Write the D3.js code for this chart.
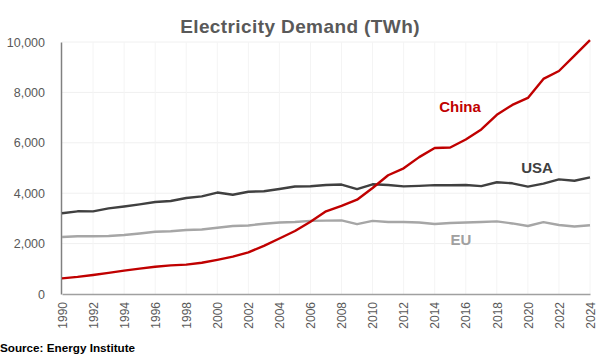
<!DOCTYPE html>
<html><head><meta charset="utf-8">
<script src="https://cdn.jsdelivr.net/npm/d3@7"></script>
<style>body{margin:0;background:#fff;font-family:"Liberation Sans",Arial,sans-serif;}</style>
</head><body><svg id="c" width="600" height="358"></svg>
<script>
const years = d3.range(1990, 2025);
const china = [621,678,754,836,928,1008,1081,1135,1167,1239,1356,1481,1654,1911,2204,2500,2866,3282,3496,3742,4207,4713,4988,5432,5795,5815,6133,6529,7112,7503,7779,8534,8849,9456,10073];
const usa = [3203,3281,3279,3398,3474,3558,3652,3691,3808,3874,4026,3937,4058,4076,4168,4268,4275,4324,4343,4165,4354,4327,4270,4291,4319,4317,4328,4282,4434,4392,4260,4380,4547,4494,4630];
const eu = [2260,2290,2290,2300,2340,2400,2470,2490,2540,2560,2630,2700,2720,2790,2840,2860,2900,2910,2920,2770,2900,2860,2860,2840,2780,2820,2840,2860,2880,2800,2700,2850,2740,2680,2730];
const yTicks = [0,2000,4000,6000,8000,10000];
const xTicks = d3.range(1990, 2025, 2);
const series = [
  {name:"EU", values:eu, color:"#a6a6a6", lx:461, ly:245, lc:"#a0a0a0"},
  {name:"USA", values:usa, color:"#404040", lx:537, ly:173, lc:"#404040"},
  {name:"China", values:china, color:"#c00000", lx:460, ly:112, lc:"#c00000"}
];

const svg = d3.select("#c");
const x = d3.scaleLinear().domain([1990, 2024]).range([62, 590]);
const y = d3.scaleLinear().domain([0, 10000]).range([294, 42]);

svg.append("text").attr("x", 300).attr("y", 33).attr("text-anchor","middle")
  .attr("font-size", 19).attr("font-weight","bold").attr("fill","#595959")
  .attr("letter-spacing", 0.4)
  .text("Electricity Demand (TWh)");

// gridlines
svg.append("g").selectAll("line").data(yTicks.filter(d=>d>0)).join("line")
  .attr("x1", 62).attr("x2", 590).attr("y1", d=>y(d)).attr("y2", d=>y(d))
  .attr("stroke","#f0f0f0").attr("stroke-width",1);
svg.append("g").selectAll("line").data(xTicks.slice(1)).join("line")
  .attr("x1", d=>x(d)).attr("x2", d=>x(d)).attr("y1", 42).attr("y2", 294)
  .attr("stroke","#f4f4f4").attr("stroke-width",1);

// y axis
const ya = svg.append("g").attr("transform","translate(61,0)")
  .call(d3.axisLeft(y).tickValues(yTicks).tickSize(0).tickPadding(16).tickFormat(d3.format(",")));
ya.select(".domain").attr("stroke","#808080").attr("stroke-width",1.5);
ya.selectAll("text").attr("font-size",12.5).attr("fill","#595959").attr("font-family","Liberation Sans, Arial, sans-serif");

// x axis
const xa = svg.append("g").attr("transform","translate(0,294)")
  .call(d3.axisBottom(x).tickValues(xTicks).tickSize(0).tickFormat(d3.format("d")));
xa.select(".domain").attr("stroke","#a0a0a0").attr("stroke-width",1.5);
xa.selectAll("text").attr("font-size",12).attr("fill","#595959")
  .attr("font-family","Liberation Sans, Arial, sans-serif")
  .attr("transform","rotate(-90)").attr("text-anchor","end")
  .attr("x",-8).attr("y",0).attr("dy","0.35em");

const line = d3.line().x((d,i)=>x(years[i])).y(d=>y(d));
series.forEach(s=>{
  svg.append("path").datum(s.values).attr("d", line).attr("fill","none")
    .attr("stroke", s.color).attr("stroke-width", 2.4).attr("stroke-linejoin","round");
  svg.append("text").attr("x", s.lx).attr("y", s.ly).attr("text-anchor","middle")
    .attr("font-size",15).attr("font-weight","bold").attr("fill", s.lc).text(s.name);
});

svg.append("text").attr("x",0).attr("y",352).attr("font-size",11.7).attr("font-weight","bold")
  .attr("fill","#000").text("Source: Energy Institute");
</script></body></html>
